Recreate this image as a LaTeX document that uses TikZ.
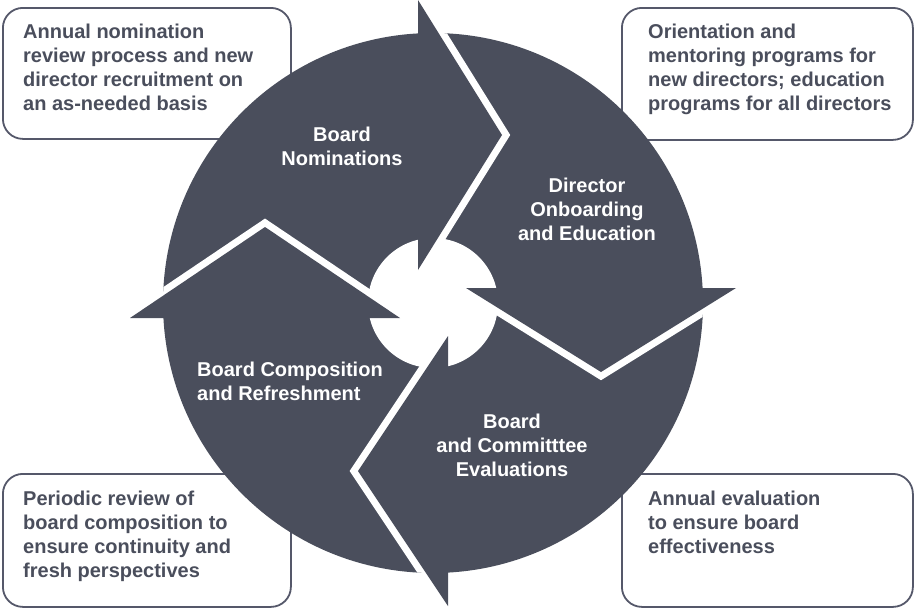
\documentclass[tikz,border=0pt]{standalone}
\usepackage{fontspec}
\setmainfont{Liberation Sans}
\definecolor{slate}{HTML}{4A4E5C}
\definecolor{boxgray}{HTML}{55586A}
\begin{document}
\begin{tikzpicture}[x=1pt,y=-1pt,
  box/.style={draw=boxgray, line width=1.8pt, rounded corners=20pt, fill=white, anchor=north west, inner sep=0pt},
  boxtext/.style={anchor=base west, inner sep=0pt, text=slate, font=\fontsize{20}{24.3}\selectfont\bfseries},
  lab/.style={anchor=base, inner sep=0pt, text=white, font=\fontsize{20}{24.3}\selectfont\bfseries},
  gapline/.style={draw=white, line width=14pt, line join=miter, miter limit=20},
  headfill/.style={fill=slate}
]
\useasboundingbox (0,0) rectangle (914,608);
% description boxes
\node[box, minimum width=288pt, minimum height=131pt] (box1) at (2,7) {};
\node[box, minimum width=291pt, minimum height=132pt] (box2) at (621,7) {};
\node[box, minimum width=288pt, minimum height=133pt] (box3) at (2,473) {};
\node[box, minimum width=291pt, minimum height=133pt] (box4) at (621,473) {};
\node[boxtext] (t1) at (23,38) {\vtop{\hbox{Annual nomination}\hbox{review process and new}\hbox{director recruitment on}\hbox{an as-needed basis}}};
\node[boxtext] (t2) at (648,38) {\vtop{\hbox{Orientation and}\hbox{mentoring programs for}\hbox{new directors; education}\hbox{programs for all directors}}};
\node[boxtext] (t3) at (23,505) {\vtop{\hbox{Periodic review of}\hbox{board composition to}\hbox{ensure continuity and}\hbox{fresh perspectives}}};
\node[boxtext] (t4) at (648,505) {\vtop{\hbox{Annual evaluation}\hbox{to ensure board}\hbox{effectiveness}}};
% cycle disk
\fill[slate] (433,303) circle (270pt);
\fill[white] (433,303) circle (65pt);
\begin{scope}
  \clip (433,303) circle (270pt);
  \draw[gapline] (418,0) -- (502,135) -- (418,270);
  \draw[gapline] (736,288) -- (601,372) -- (466,288);
  \draw[gapline] (448,606) -- (358,471) -- (448,336);
  \draw[gapline] (130,318) -- (265,227) -- (400,318);
\end{scope}
\fill[headfill] (418,0) -- (502,135) -- (418,270) -- cycle;
\fill[headfill] (736,288) -- (601,372) -- (466,288) -- cycle;
\fill[headfill] (448,606) -- (358,471) -- (448,336) -- cycle;
\fill[headfill] (130,318) -- (265,227) -- (400,318) -- cycle;
% labels
\node[lab] (l1) at (342,141) {\vtop{\halign{\hfil#\hfil\cr Board\cr Nominations\cr}}};
\node[lab] (l2) at (587,192) {\vtop{\halign{\hfil#\hfil\cr Director\cr Onboarding\cr and Education\cr}}};
\node[lab] (l3) at (512,428) {\vtop{\halign{\hfil#\hfil\cr Board\cr and Committtee\cr Evaluations\cr}}};
\node[boxtext, text=white] (l4) at (197,376) {\vtop{\hbox{Board Composition}\hbox{and Refreshment}}};
\end{tikzpicture}
\end{document}
